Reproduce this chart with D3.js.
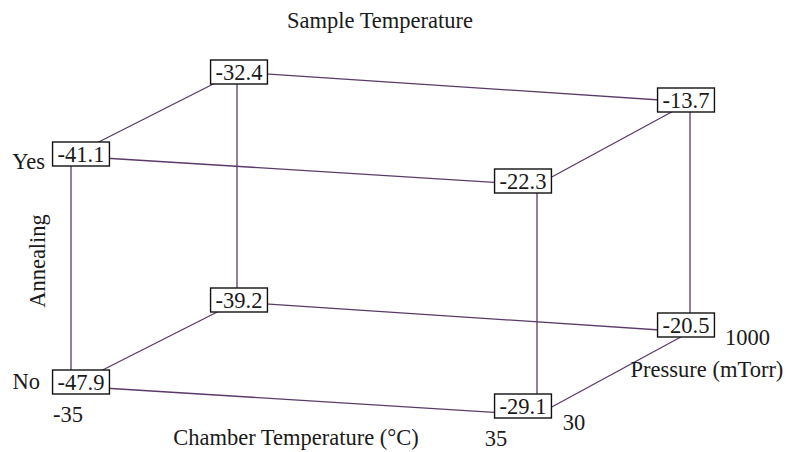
<!DOCTYPE html>
<html>
<head>
<meta charset="utf-8">
<script src="https://cdn.jsdelivr.net/npm/d3@7"></script>
<style>
  html, body { margin: 0; padding: 0; background: #fff; }
  svg { display: block; }
  text { font-family: "Liberation Serif", "Times New Roman", serif; fill: #1a1a1a; }
</style>
</head>
<body>
<script>
// ---- data ----
const chamberLevels = [-35, 35];
const pressureLevels = [30, 1000];
const annealingLevels = ["No", "Yes"];

const chamber   = [-35, 35, -35, 35, -35, 35, -35, 35];
const pressure  = [30, 30, 1000, 1000, 30, 30, 1000, 1000];
const annealing = ["No", "No", "No", "No", "Yes", "Yes", "Yes", "Yes"];
const sampleTemp = [-47.9, -29.1, -39.2, -20.5, -41.1, -22.3, -32.4, -13.7];

const title = "Sample Temperature";
const xTitle = "Chamber Temperature (°C)";
const zTitle = "Pressure (mTorr)";
const yTitle = "Annealing";

// ---- layout ----
const W = 786, H = 452;
const svg = d3.select("body").append("svg").attr("width", W).attr("height", H);

const xFront = d3.scaleLinear().domain(chamberLevels).range([71, 537]);
const xBack  = d3.scaleLinear().domain(chamberLevels).range([237, 690]);
const yFront = d3.scaleLinear().domain(chamberLevels).range([386, 415]);
const yBack  = d3.scaleLinear().domain(chamberLevels).range([302, 332]);
const depth  = d3.scalePoint().domain(pressureLevels).range([0, 1]);
const lift   = d3.scalePoint().domain(annealingLevels).range([0, 230]);

function proj(c, p, a) {
  const t = depth(p);
  const x = d3.interpolateNumber(xFront(c), xBack(c))(t);
  const y = d3.interpolateNumber(yFront(c), yBack(c))(t) - lift(a);
  return [x, y];
}

const pts = sampleTemp.map((v, i) => ({
  c: chamber[i], p: pressure[i], a: annealing[i], v,
  xy: proj(chamber[i], pressure[i], annealing[i])
}));

// edges: pairs differing in exactly one factor
const edges = [];
for (let i = 0; i < pts.length; i++) {
  for (let j = i + 1; j < pts.length; j++) {
    const d = (pts[i].c !== pts[j].c) + (pts[i].p !== pts[j].p) + (pts[i].a !== pts[j].a);
    if (d === 1) edges.push([pts[i], pts[j]]);
  }
}

svg.append("g").selectAll("line").data(edges).join("line")
  .attr("x1", d => d[0].xy[0]).attr("y1", d => d[0].xy[1])
  .attr("x2", d => d[1].xy[0]).attr("y2", d => d[1].xy[1])
  .attr("stroke", "#5a3a66").attr("stroke-width", 1.3);

// value boxes
const fs = 22.5;
const g = svg.append("g").selectAll("g").data(pts).join("g")
  .attr("transform", d => {
    const left = d.c === chamberLevels[0];
    const front = d.p === pressureLevels[0];
    const bottom = d.a === annealingLevels[0];
    const dx = front ? (left ? 10 : -14) : (left ? 2 : -4);
    const dy = (front ? -2 : 0) + (left ? 0 : -2) + (bottom ? (left ? -2 : -5) : 0);
    return `translate(${d.xy[0] + dx},${d.xy[1] + dy})`;
  });

g.append("text")
  .attr("text-anchor", "middle")
  .attr("y", 8)
  .style("font-size", fs + "px")
  .text(d => d.v.toFixed(1));

g.each(function() {
  const gg = d3.select(this);
  const bb = gg.select("text").node().getBBox();
  const w = bb.width + 10, h = 24;
  gg.insert("rect", "text")
    .attr("x", -w / 2).attr("y", -h / 2)
    .attr("width", w).attr("height", h)
    .attr("fill", "#fff").attr("stroke", "#111").attr("stroke-width", 1.4);
});

// ---- titles and level labels ----
svg.append("text").attr("x", 380).attr("y", 28).attr("text-anchor", "middle")
  .style("font-size", fs + "px").text(title);

// annealing levels
svg.append("text").attr("x", 45).attr("y", 169).attr("text-anchor", "end")
  .style("font-size", fs + "px").text(annealingLevels[1]);
svg.append("text").attr("x", 40).attr("y", 389).attr("text-anchor", "end")
  .style("font-size", fs + "px").text(annealingLevels[0]);
svg.append("text").attr("transform", "translate(45,261) rotate(-90)")
  .attr("text-anchor", "middle").style("font-size", fs + "px").text(yTitle);

// chamber levels
svg.append("text").attr("x", 68).attr("y", 422).attr("text-anchor", "middle")
  .style("font-size", fs + "px").text(String(chamberLevels[0]));
svg.append("text").attr("x", 496).attr("y", 446).attr("text-anchor", "middle")
  .style("font-size", fs + "px").text(String(chamberLevels[1]));
svg.append("text").attr("x", 296).attr("y", 445).attr("text-anchor", "middle")
  .style("font-size", fs + "px").text(xTitle);

// pressure levels
svg.append("text").attr("x", 574).attr("y", 430).attr("text-anchor", "middle")
  .style("font-size", fs + "px").text(String(pressureLevels[0]));
svg.append("text").attr("x", 725).attr("y", 345).attr("text-anchor", "start")
  .style("font-size", fs + "px").text(String(pressureLevels[1]));
svg.append("text").attr("x", 707).attr("y", 377).attr("text-anchor", "middle")
  .style("font-size", fs + "px").text(zTitle);
</script>
</body>
</html>
